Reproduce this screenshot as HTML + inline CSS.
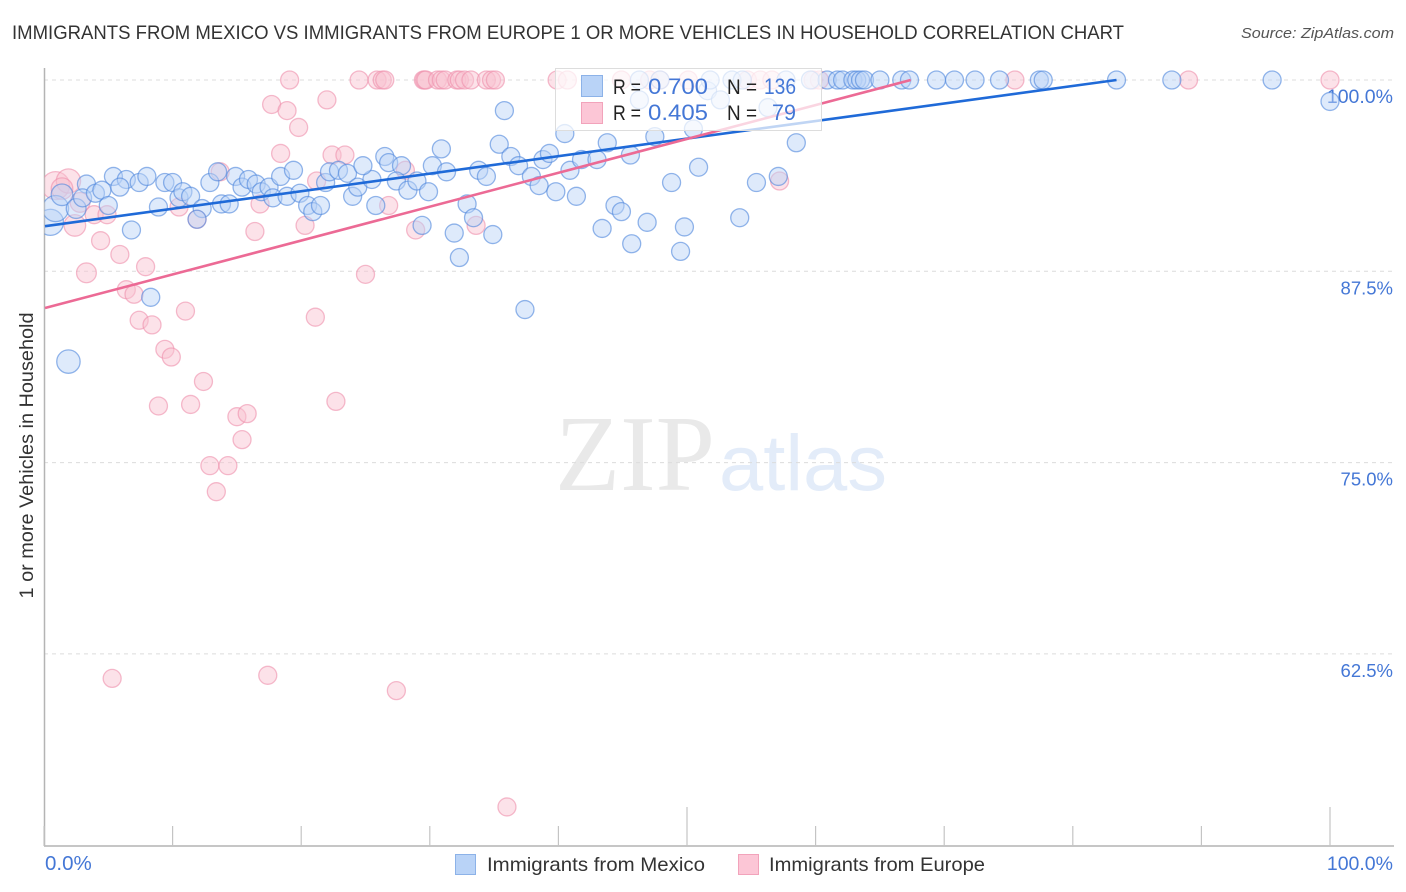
<!DOCTYPE html>
<html lang="en">
<head>
<meta charset="utf-8">
<title>Immigrants from Mexico vs Immigrants from Europe correlation chart</title>
<style>
html,body{margin:0;padding:0;background:#fff;width:1406px;height:892px;overflow:hidden}
svg{display:block;font-family:"Liberation Sans",sans-serif}
</style>
</head>
<body>
<svg id="chart" width="1406" height="892" viewBox="0 0 1406 892">
  <defs><clipPath id="plot-clip"><rect x="44.5" y="60" width="1350" height="786"/></clipPath></defs>
  <text x="12" y="39" font-size="19.5" fill="#333" textLength="1112" lengthAdjust="spacingAndGlyphs">IMMIGRANTS FROM MEXICO VS IMMIGRANTS FROM EUROPE 1 OR MORE VEHICLES IN HOUSEHOLD CORRELATION CHART</text>
  <text x="1241" y="38" font-size="15" font-style="italic" fill="#555" textLength="153" lengthAdjust="spacingAndGlyphs">Source: ZipAtlas.com</text>
  <g>
    <text x="555" y="490" font-family="'Liberation Serif',serif" font-size="108" fill="#e9e9e9" textLength="160" lengthAdjust="spacingAndGlyphs">ZIP</text>
    <text x="719" y="490" font-size="79" fill="#e3ecf9" textLength="168" lengthAdjust="spacingAndGlyphs">atlas</text>
  </g>
  <g id="grid"></g>
  <g id="axes"></g>
  <text transform="translate(33,455.5) rotate(-90)" font-size="19" fill="#333" text-anchor="middle" textLength="286" lengthAdjust="spacingAndGlyphs">1 or more Vehicles in Household</text>
  <g id="points" clip-path="url(#plot-clip)"></g>
  <g id="trends"></g>
  <g>
    <rect x="555.5" y="68.5" width="266" height="62" fill="#fff" fill-opacity="0.72" stroke="#ddd" stroke-width="1"/>
    <rect x="581.5" y="75.5" width="21" height="21" fill="#b9d3f7" stroke="#8cb2e8"/>
    <rect x="581.5" y="102.5" width="21" height="21" fill="#fcc6d6" stroke="#f2a3bb"/>
    <g font-size="21" fill="#222">
      <text x="613" y="94" textLength="28" lengthAdjust="spacingAndGlyphs">R =</text>
      <text x="613" y="120" textLength="28" lengthAdjust="spacingAndGlyphs">R =</text>
      <text x="727" y="94" textLength="30" lengthAdjust="spacingAndGlyphs">N =</text>
      <text x="727" y="120" textLength="30" lengthAdjust="spacingAndGlyphs">N =</text>
    </g>
    <g font-size="22" fill="#4477d6">
      <text x="648" y="94" textLength="60" lengthAdjust="spacingAndGlyphs">0.700</text>
      <text x="648" y="120" textLength="60" lengthAdjust="spacingAndGlyphs">0.405</text>
      <text x="764" y="94" textLength="32" lengthAdjust="spacingAndGlyphs">136</text>
      <text x="772" y="120" textLength="24" lengthAdjust="spacingAndGlyphs">79</text>
    </g>
  </g>
  <g>
    <g>
      <rect x="455.5" y="854.5" width="20" height="20" fill="#b9d3f7" stroke="#8cb2e8"/>
      <text x="487" y="871" font-size="19.5" fill="#333" textLength="218" lengthAdjust="spacingAndGlyphs">Immigrants from Mexico</text>
    </g>
    <g>
      <rect x="738.5" y="854.5" width="20" height="20" fill="#fcc6d6" stroke="#f2a3bb"/>
      <text x="769" y="871" font-size="19.5" fill="#333" textLength="216" lengthAdjust="spacingAndGlyphs">Immigrants from Europe</text>
    </g>
  </g>
</svg>
<script>
const yTickValues = [100, 87.5, 75, 62.5];
const yTickLabels = ['100.0%', '87.5%', '75.0%', '62.5%'];
const xTickValues = [0, 10, 20, 30, 40, 50, 60, 70, 80, 90, 100];
const xMajorTicks = [50, 100];
const xEndValues = [0, 100];
const xEndLabels = ['0.0%', '100.0%'];

const mexicoX = [0.5,0.9,1.4,1.9,2.5,3.3,3.0,4.0,4.5,5.4,6.4,5.9,7.4,8.0,5.0,6.8,8.9,9.4,10.0,10.5,10.8,11.4,12.3,11.9,12.9,13.5,13.8,14.4,14.9,15.4,15.9,16.5,16.9,17.5,17.8,18.4,19.4,18.9,19.9,20.5,20.9,21.5,21.9,22.2,22.9,23.6,24.0,24.4,25.5,24.8,26.5,26.8,27.8,27.4,28.3,29.0,29.9,30.2,30.9,31.3,25.8,29.4,31.9,32.9,33.4,34.9,32.3,33.8,34.4,35.8,35.4,36.3,36.9,37.9,38.5,39.8,41.4,37.4,38.8,39.3,40.9,40.5,41.8,43.0,43.8,45.6,47.5,46.3,50.5,50.9,48.8,44.4,44.9,43.4,45.7,46.9,49.8,49.5,51.6,52.6,56.3,58.5,57.1,55.4,54.1,8.3,46.3,47.9,51.8,53.5,54.3,57.7,59.6,60.9,61.7,62.1,62.9,63.2,63.5,63.8,65.0,66.7,67.3,69.4,70.8,72.4,74.3,77.4,77.7,83.4,87.7,95.5,100];
const mexicoY = [90.7,91.6,92.5,81.6,91.6,93.2,92.3,92.6,92.8,93.7,93.5,93.0,93.3,93.7,91.8,90.2,91.7,93.3,93.3,92.3,92.7,92.4,91.6,90.9,93.3,94.0,91.9,91.9,93.7,93.0,93.5,93.2,92.7,93.0,92.3,93.7,94.1,92.4,92.6,91.8,91.4,91.8,93.3,94.0,94.1,93.9,92.4,93.0,93.5,94.4,95.0,94.6,94.4,93.4,92.8,93.4,92.7,94.4,95.5,94.0,91.8,90.5,90.0,91.9,91.0,89.9,88.4,94.1,93.7,98.0,95.8,95.0,94.4,93.7,93.1,92.7,92.4,85.0,94.8,95.2,94.1,96.5,94.8,94.8,95.9,95.1,96.3,98.7,96.8,94.3,93.3,91.8,91.4,90.3,89.3,90.7,90.4,88.8,99.3,98.7,98.2,95.9,93.7,93.3,91.0,85.8,100,100,100,100,100,100,100,100,100,100,100,100,100,100,100,100,100,100,100,100,100,100,100,100,100,100,98.6];
const mexicoWeight = [1.45,1.45,1.2,1.3,1.1];

const europeX = [0.9,1.9,1.4,2.8,2.4,3.3,3.9,4.9,4.4,5.9,6.4,7.0,7.9,11.0,7.4,8.4,10.5,11.9,13.7,16.8,16.4,18.4,17.7,18.9,19.8,22.0,21.1,20.3,21.2,22.4,23.4,9.4,9.9,12.4,8.9,11.4,15.0,15.8,15.4,12.9,14.3,13.4,22.7,5.3,17.4,27.4,36.0,28.1,26.8,28.9,33.6,25.0,57.2,19.1,24.5,25.9,26.3,26.5,29.5,29.6,29.7,30.6,30.9,31.2,32.1,32.3,32.7,33.2,34.4,34.8,35.1,39.9,40.7,44.9,47.1,47.9,50.1,54.7,55.7,56.6,59.8,60.3,75.5,89.0,100];
const europeY = [93.1,93.4,92.9,92.0,90.5,87.4,91.2,91.2,89.5,88.6,86.3,86.0,87.8,84.9,84.3,84.0,91.7,90.9,94.0,91.9,90.1,95.2,98.4,98.0,96.9,98.7,84.5,90.5,93.4,95.1,95.1,82.4,81.9,80.3,78.7,78.8,78.0,78.2,76.5,74.8,74.8,73.1,79.0,60.9,61.1,60.1,52.5,94.1,91.8,90.2,90.5,87.3,93.4,100,100,100,100,100,100,100,100,100,100,100,100,100,100,100,100,100,100,100,100,100,100,100,100,100,100,100,100,100,100,100,100];
const europeWeight = [1.55,1.35,1.2,1.1,1.2,1.1];

const mexicoTrendX = [0, 83.4];
const mexicoTrendY = [90.45, 100];
const europeTrendX = [0, 67.4];
const europeTrendY = [85.1, 100];

const NS = 'http://www.w3.org/2000/svg';
function xScale(v) { return 44 + v * 12.86; }
function yScale(v) { return 80 + (100 - v) * 191.3 / 12.5; }
function make(tag, attrs, parent) {
  const el = document.createElementNS(NS, tag);
  for (const k in attrs) el.setAttribute(k, attrs[k]);
  parent.appendChild(el);
  return el;
}
const grid = document.getElementById('grid');
const axes = document.getElementById('axes');
const points = document.getElementById('points');
const trends = document.getElementById('trends');

yTickValues.forEach(function (v, i) {
  const line = make('line', {x1: 44, x2: 1394, y1: yScale(v), y2: yScale(v), stroke: '#dcdcdc', 'stroke-width': 1, 'stroke-dasharray': '4 4'}, grid);
  
  
  const label = make('text', {x: 1393, y: yScale(v) + 23, 'text-anchor': 'end', 'font-size': i === 0 ? 19.5 : 18.5, fill: '#4477d6'}, axes);
  label.textContent = yTickLabels[i];
  
  
});

const yAxisLine = make('line', {x1: 44.5, x2: 44.5, y1: 68, y2: 846, stroke: '#b4b4b4', 'stroke-width': 1.5}, axes);


const xAxisLine = make('line', {x1: 44, x2: 1394, y1: 846, y2: 846, stroke: '#b4b4b4', 'stroke-width': 1.5}, axes);



xTickValues.forEach(function (v) {
  const top = xMajorTicks.indexOf(v) >= 0 ? 807 : 826;
  const tick = make('line', {x1: xScale(v), x2: xScale(v), y1: top, y2: 846, stroke: '#c4c4c4', 'stroke-width': 1.2}, axes);
  
  
});

xEndValues.forEach(function (v, i) {
  const label = make('text', {x: i === 0 ? xScale(v) + 1 : xScale(v) + 63, y: 870, 'text-anchor': i === 0 ? 'start' : 'end', 'font-size': i === 0 ? 20.5 : 19.5, fill: '#4477d6'}, axes);
  label.textContent = xEndLabels[i];
  
  
});

function drawSeries(xs, ys, weights, fill, stroke, name) {
  xs.forEach(function (v, i) {
    const c = make('circle', {cx: xScale(v), cy: yScale(ys[i]), r: 9 * (weights[i] || 1), fill: fill, 'fill-opacity': 0.48, stroke: stroke, 'stroke-opacity': 0.6, 'stroke-width': 1.3}, points);
    
    
  });
}
drawSeries(europeX, europeY, europeWeight, '#f9c2d2', '#ee8fac', 'point-europe');
drawSeries(mexicoX, mexicoY, mexicoWeight, '#b9d3f6', '#4c86dc', 'point-mexico');

const trendMexico = make('line', {x1: xScale(mexicoTrendX[0]) + 1, y1: yScale(mexicoTrendY[0]), x2: xScale(mexicoTrendX[1]), y2: yScale(mexicoTrendY[1]), stroke: '#1f6ad8', 'stroke-width': 2.6}, trends);


const trendEurope = make('line', {x1: xScale(europeTrendX[0]) + 1, y1: yScale(europeTrendY[0]), x2: xScale(europeTrendX[1]), y2: yScale(europeTrendY[1]), stroke: '#ec6a95', 'stroke-width': 2.6}, trends);


</script>
</body>
</html>
